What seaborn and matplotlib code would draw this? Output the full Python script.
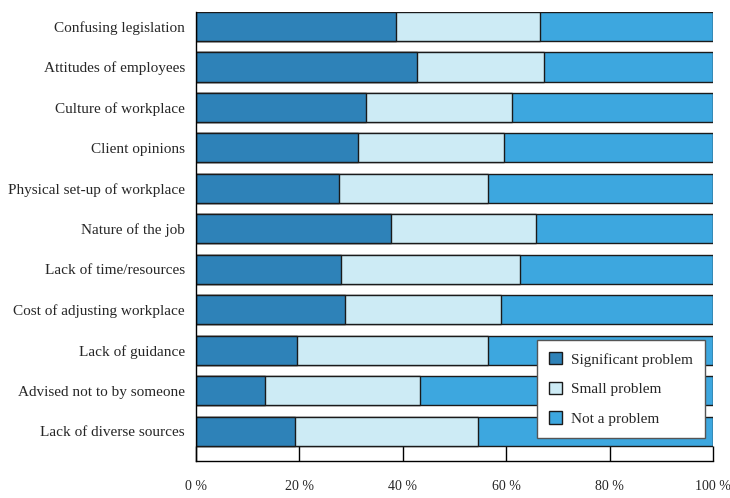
import numpy as np
import pandas as pd
import matplotlib
matplotlib.use("Agg")
import matplotlib.pyplot as plt
import seaborn as sns
from matplotlib.patches import Patch

# Values (percent of respondents)
barriers = ["Confusing legislation", "Attitudes of employees", "Culture of workplace",
            "Client opinions", "Physical set-up of workplace", "Nature of the job",
            "Lack of time/resources", "Cost of adjusting workplace", "Lack of guidance",
            "Advised not to by someone", "Lack of diverse sources"]
significant = [38.6, 42.7, 32.9, 31.4, 27.7, 37.7, 28.0, 28.8, 19.6, 13.4, 19.1]
small = [27.9, 24.7, 28.2, 28.2, 28.7, 28.1, 34.6, 30.2, 36.9, 29.9, 35.4]
not_problem = [33.5, 32.6, 38.9, 40.4, 43.6, 34.2, 37.4, 41.0, 43.5, 56.7, 45.5]
series = ["Significant problem", "Small problem", "Not a problem"]
colors = ["#2E82B8", "#CDEBF5", "#3DA7DF"]
xticks = [0, 20, 40, 60, 80, 100]

df = pd.DataFrame({"barrier": barriers, "sig": significant,
                   "small": small, "not": not_problem})
df["cum_small"] = df["sig"] + df["small"]
df["cum_all"] = df["cum_small"] + df["not"]

sns.set_style("white")
plt.rcParams["font.family"] = ["Liberation Serif", "DejaVu Serif"]

fig = plt.figure(figsize=(7.3, 4.98), dpi=100)
ax = fig.add_axes([0.2685, 0.0743, 0.7082, 0.9016])

# stacked bars drawn back to front (cumulative totals)
for col, c in zip(["cum_all", "cum_small", "sig"], colors[::-1]):
    sns.barplot(data=df, y="barrier", x=col, color=c, orient="h", width=0.72,
                edgecolor="#1a1a1a", linewidth=1.0, ax=ax, saturation=1)

ax.set_xlim(0, 100)
ax.set_ylim(10.74, -0.36)
ax.set_xticks(xticks)
ax.set_xticklabels([f"{t} %" for t in xticks])
ax.set_xlabel("")
ax.set_ylabel("")

for s in ["top", "right"]:
    ax.spines[s].set_visible(False)
for s in ["left", "bottom"]:
    ax.spines[s].set_color("black")
    ax.spines[s].set_linewidth(1.0)

ax.tick_params(axis="x", bottom=True, direction="in", length=11, width=1,
               color="black", pad=14, labelsize=10)
ax.tick_params(axis="y", left=False, length=0, pad=8, labelsize=11)

handles = [Patch(facecolor=c, edgecolor="#1a1a1a", linewidth=1.0) for c in colors]
leg = ax.legend(handles, series, loc="lower right", bbox_to_anchor=(0.985, 0.051),
                borderaxespad=0, frameon=True, fancybox=False, framealpha=1,
                edgecolor="#555555", fontsize=11, handlelength=0.85, handleheight=0.85,
                labelspacing=1.0, borderpad=0.8, handletextpad=0.6)
leg.get_frame().set_linewidth(1.0)

fig.savefig("out.png", dpi=100)
